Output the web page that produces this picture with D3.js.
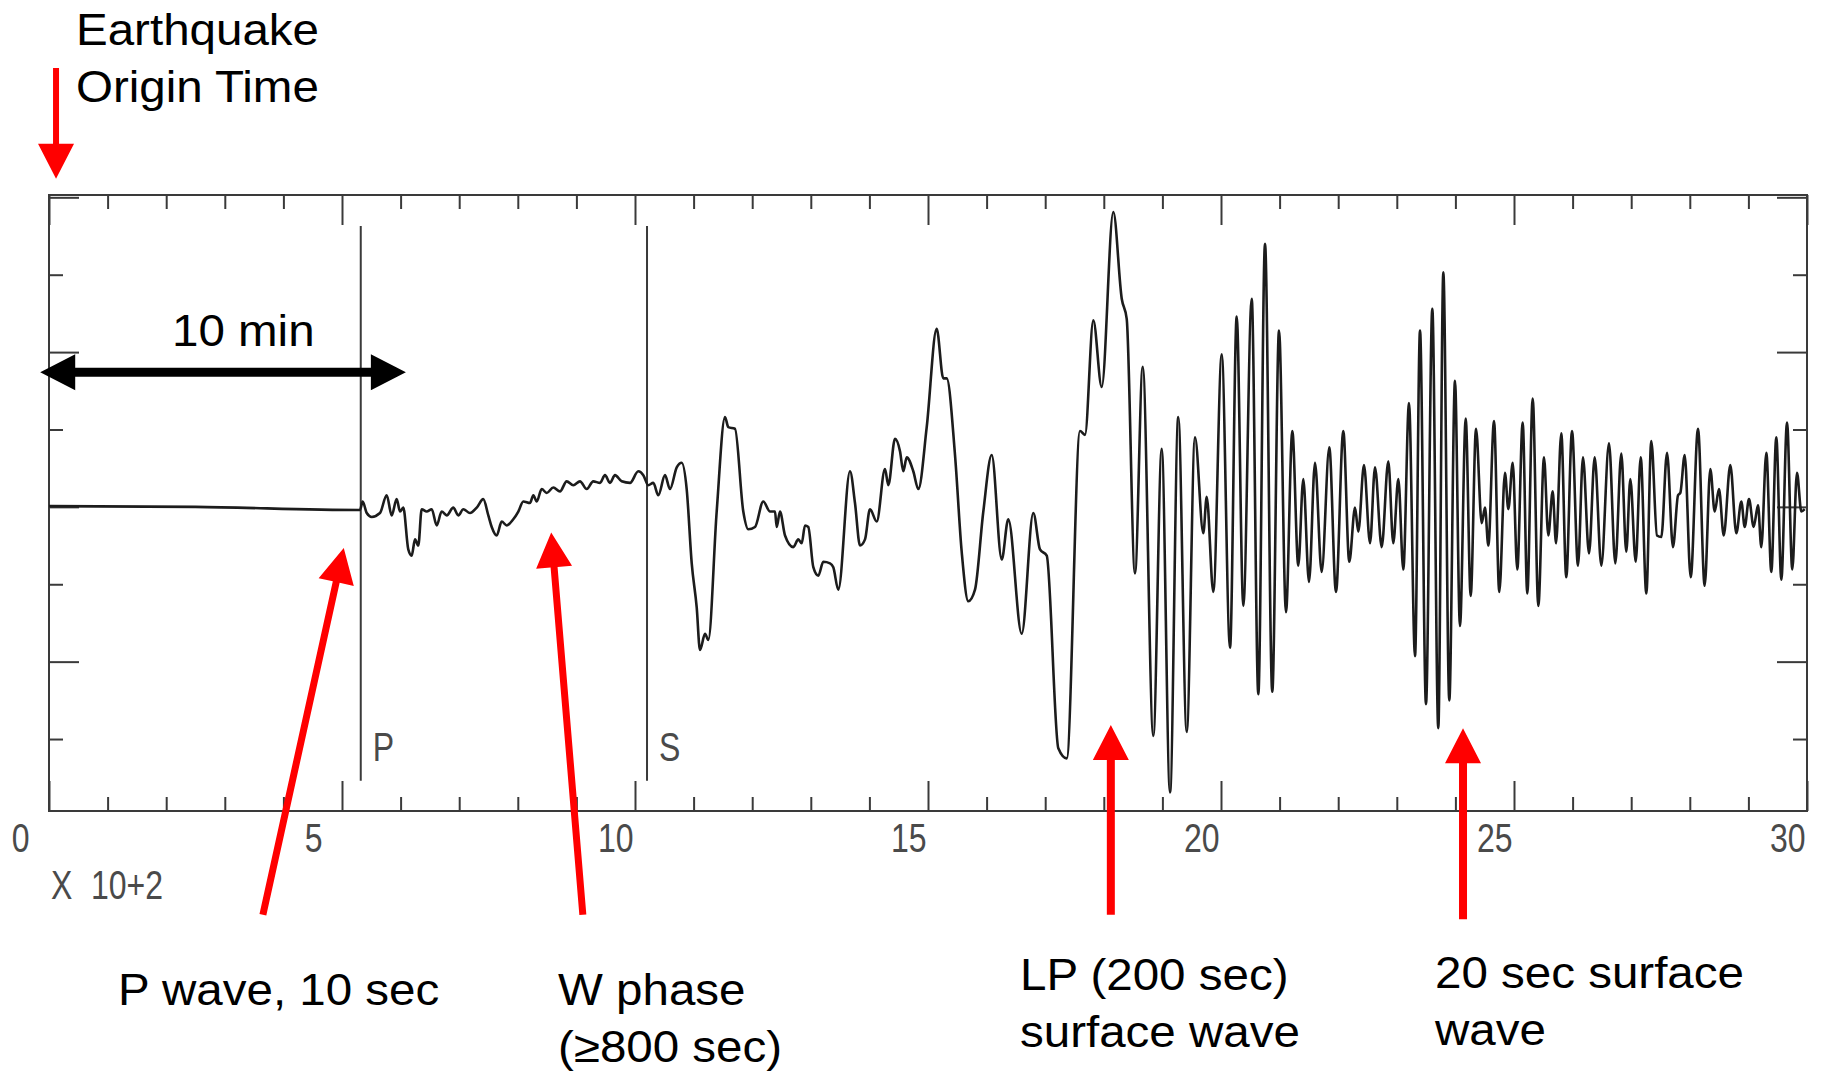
<!DOCTYPE html>
<html>
<head>
<meta charset="utf-8">
<script src="https://cdn.jsdelivr.net/npm/d3@7"></script>
<style>
  body { margin: 0; background: #fff; }
  svg { display: block; background: #fff; }
  .note { font-family: "Liberation Sans", Arial, sans-serif; font-size: 44px; fill: #000; }
  .tick-label { font-family: "Liberation Sans", Arial, sans-serif; font-size: 40px; fill: #4a4a4a; }
</style>
</head>
<body>
<svg width="1823" height="1071"></svg>
<script>
// time in units of 100 s ("X 10+2"), amplitude in axis units
const trace = [
  [0, 0.01], [2.5, 0], [5.307, -0.04], [5.353, 0.07], [5.422, -0.08], [5.507, -0.13], [5.648, -0.08],
  [5.763, 0.15], [5.848, -0.11], [5.933, 0.10], [5.990, -0.06], [6.046, -0.01], [6.131, -0.55],
  [6.189, -0.63], [6.246, -0.42], [6.302, -0.50], [6.360, -0.03], [6.445, -0.06], [6.531, -0.03],
  [6.616, -0.24], [6.701, -0.06], [6.787, -0.11], [6.899, -0.01], [6.985, -0.11], [7.070, -0.03],
  [7.184, -0.08], [7.299, -0.01], [7.411, 0.10], [7.497, -0.11], [7.555, -0.26], [7.640, -0.37],
  [7.725, -0.19], [7.811, -0.24], [7.923, -0.16], [8.009, -0.06], [8.094, 0.07], [8.208, 0.05],
  [8.265, 0.15], [8.323, 0.07], [8.408, 0.23], [8.493, 0.18], [8.606, 0.25], [8.720, 0.20],
  [8.834, 0.33], [8.947, 0.28], [9.061, 0.33], [9.176, 0.23], [9.288, 0.33], [9.403, 0.31],
  [9.488, 0.41], [9.573, 0.31], [9.659, 0.41], [9.773, 0.33], [9.915, 0.31], [10.056, 0.46],
  [10.142, 0.41], [10.227, 0.28], [10.312, 0.31], [10.398, 0.15],
  [10.512, 0.41], [10.597, 0.23], [10.712, 0.51], [10.797, 0.57], [10.882, 0.23], [10.968, -0.73],
  [11.053, -1.30], [11.109, -1.85], [11.195, -1.64], [11.251, -1.72], [11.394, -0.06], [11.536, 1.16],
  [11.592, 1.03], [11.706, 1.01], [11.848, -0.06], [11.933, -0.29], [12.048, -0.26], [12.189, 0.07],
  [12.304, -0.06], [12.389, -0.06], [12.418, -0.26], [12.474, -0.06], [12.560, -0.37], [12.701, -0.52],
  [12.787, -0.42], [12.845, -0.47], [12.901, -0.24], [12.957, -0.26], [13.043, -0.78], [13.128, -0.89],
  [13.213, -0.71], [13.328, -0.73], [13.384, -0.78], [13.469, -1.07], [13.669, 0.46], [13.754, 0.05],
  [13.840, -0.50], [13.925, -0.42], [14.010, -0.03], [14.125, -0.19], [14.266, 0.49], [14.323, 0.28],
  [14.437, 0.88], [14.522, 0.72], [14.579, 0.46], [14.637, 0.64], [14.749, 0.46], [14.835, 0.23],
  [14.978, 1.03], [15.148, 2.30], [15.261, 1.66], [15.319, 1.66], [15.461, 0.67], [15.575, -0.58],
  [15.688, -1.22], [15.802, -1.07], [15.944, -0.06], [16.087, 0.67], [16.258, -0.68], [16.370, -0.16],
  [16.599, -1.64], [16.797, -0.08], [16.911, -0.55], [17.026, -0.63], [17.224, -3.12], [17.367, -3.25],
  [17.594, 0.98], [17.679, 0.93], [17.821, 2.41], [17.964, 1.55], [18.162, 3.81], [18.306, 2.69],
  [18.391, 2.43], [18.532, -0.86], [18.664, 1.81], [18.845, -2.96], [18.988, 0.75], [19.130, -3.69],
  [19.271, 1.16], [19.415, -2.91], [19.556, 0.90], [19.698, -0.34], [19.756, 0.13], [19.869, -1.10],
  [20.012, 1.97], [20.154, -1.82], [20.268, 2.46], [20.381, -1.28], [20.524, 2.69], [20.637, -2.42],
  [20.751, 3.40], [20.875, -2.39], [20.990, 2.28], [21.109, -1.36], [21.217, 0.98], [21.319, -0.76],
  [21.404, 0.36], [21.502, -0.97], [21.604, 0.57], [21.718, -0.84], [21.848, 0.77], [21.962, -1.10],
  [22.087, 0.98], [22.189, -0.71], [22.287, -0.01], [22.343, -0.32], [22.440, 0.54], [22.543, -0.47],
  [22.628, 0.51], [22.742, -0.52], [22.855, 0.59], [22.940, -0.47], [23.026, 0.36], [23.111, -0.81],
  [23.208, 1.34], [23.311, -1.93], [23.396, 2.28], [23.498, -2.55], [23.606, 2.56], [23.708, -2.86],
  [23.794, 3.03], [23.896, -2.50], [23.993, 1.63], [24.078, -1.54], [24.176, 1.14], [24.261, -1.15],
  [24.352, 1.01], [24.449, -0.21], [24.505, -0.01], [24.562, -0.50], [24.659, 1.11], [24.749, -1.10],
  [24.846, 0.44], [24.903, -0.03], [24.978, 0.57], [25.056, -0.81], [25.148, 1.09], [25.227, -1.12],
  [25.319, 1.40], [25.415, -1.28], [25.512, 0.64], [25.585, -0.37], [25.660, 0.20], [25.717, -0.47],
  [25.807, 0.95], [25.892, -0.91], [25.990, 0.98], [26.092, -0.76], [26.177, 0.64], [26.280, -0.60],
  [26.377, 0.64], [26.490, -0.76], [26.621, 0.82], [26.729, -0.73], [26.831, 0.69], [26.916, -0.58],
  [26.985, 0.36], [27.077, -0.71], [27.162, 0.64], [27.258, -1.12], [27.343, 0.85], [27.440, -0.37],
  [27.514, -0.39], [27.611, 0.70], [27.713, -0.52], [27.799, 0.15], [27.838, 0.18], [27.913, 0.67],
  [28.015, -0.91], [28.140, 1.01], [28.254, -1.02], [28.350, 0.49], [28.425, -0.06], [28.498, 0.23],
  [28.579, -0.37], [28.691, 0.54], [28.794, -0.34], [28.879, 0.07], [28.937, -0.26], [29.010, 0.10],
  [29.090, -0.26], [29.164, 0.02], [29.220, -0.52], [29.306, 0.70], [29.391, -0.84], [29.476, 0.90],
  [29.562, -0.94], [29.659, 1.09], [29.749, -0.81], [29.829, 0.44], [29.903, -0.06], [29.961, -0.03]
];

const timeTicks = d3.range(0, 31);
const timeLabels = [0, 5, 10, 15, 20, 25, 30];
const ampTicks = d3.range(-3, 5);
const phases = [{ label: "P", t: 5.32 }, { label: "S", t: 10.205 }];

const arrows = [
  { from: [0.12, 5.67], to: [0.12, 4.24], color: "#ff0000", shaft: 6 },
  { from: [3.65, -5.27], to: [5.03, -0.53], color: "#ff0000", shaft: 7 },
  { from: [9.11, -5.27], to: [8.57, -0.33], color: "#ff0000", shaft: 7 },
  { from: [18.12, -5.27], to: [18.12, -2.82], color: "#ff0000", shaft: 8 },
  { from: [24.13, -5.33], to: [24.13, -2.86], color: "#ff0000", shaft: 8 },
  { from: [-0.15, 1.74], to: [6.09, 1.74], color: "#000000", shaft: 9, both: true }
];

const notes = [
  { lines: ["Earthquake", "Origin Time"], x: 76, y: 45 },
  { lines: ["10 min"], x: 172, y: 346 },
  { lines: ["P wave, 10 sec"], x: 118, y: 1005 },
  { lines: ["W phase", "(≥800 sec)"], x: 558, y: 1005 },
  { lines: ["LP (200 sec)", "surface wave"], x: 1020, y: 990 },
  { lines: ["20 sec surface", "wave"], x: 1435, y: 988 }
];

const svg = d3.select("svg");
const x = d3.scaleLinear().domain([0, 30]).range([49, 1807]);
const y = d3.scaleLinear().domain([-3.93, 4.03]).range([811, 195]);
const axisColor = "#3a3a3a";
const narrow = 0.8; // squeeze for the plotter-style labels

// frame
svg.append("rect")
  .attr("x", x(0)).attr("y", y(4.03))
  .attr("width", x(30) - x(0)).attr("height", y(-3.93) - y(4.03))
  .attr("fill", "none").attr("stroke", axisColor).attr("stroke-width", 2);

function styleAxis(g) {
  g.select(".domain").remove();
  g.selectAll(".tick line").attr("stroke", axisColor).attr("stroke-width", 2);
}

const isMajorT = (d) => d % 5 === 0;
const isMajorA = (d) => d % 2 === 0;

// time ticks, inward on top and bottom
svg.append("g").attr("transform", `translate(0,${y(-3.93)})`)
  .call(d3.axisBottom(x).tickValues(timeTicks.filter((d) => !isMajorT(d))).tickSize(-14).tickFormat(""))
  .call(styleAxis);
const bottomMajor = svg.append("g").attr("transform", `translate(0,${y(-3.93)})`)
  .call(d3.axisBottom(x).tickValues(timeLabels).tickSize(-30).tickFormat(d3.format("d")))
  .call(styleAxis);
bottomMajor.selectAll("text")
  .attr("class", "tick-label")
  .attr("text-anchor", "end")
  .attr("dy", null)
  .attr("y", 41)
  .attr("x", (d) => (d < 10 ? -20 : -2) / narrow)
  .attr("transform", `scale(${narrow},1)`);

svg.append("g").attr("transform", `translate(0,${y(4.03)})`)
  .call(d3.axisTop(x).tickValues(timeTicks.filter((d) => !isMajorT(d))).tickSize(-14).tickFormat(""))
  .call(styleAxis);
svg.append("g").attr("transform", `translate(0,${y(4.03)})`)
  .call(d3.axisTop(x).tickValues(timeLabels).tickSize(-30).tickFormat(""))
  .call(styleAxis);

// amplitude ticks, inward on left and right
[["left", x(0)], ["right", x(30)]].forEach(([side, px]) => {
  const make = side === "left" ? d3.axisLeft : d3.axisRight;
  svg.append("g").attr("transform", `translate(${px},0)`)
    .call(make(y).tickValues(ampTicks.filter((d) => !isMajorA(d))).tickSize(-14).tickFormat(""))
    .call(styleAxis);
  svg.append("g").attr("transform", `translate(${px},0)`)
    .call(make(y).tickValues(ampTicks.filter(isMajorA)).tickSize(-30).tickFormat(""))
    .call(styleAxis);
});

// "X 10+2" multiplier
const mult = svg.append("text").attr("class", "tick-label")
  .attr("transform", `translate(51,899) scale(${narrow},1)`);
mult.append("tspan").attr("x", 0).text("X");
mult.append("tspan").attr("x", 40 / narrow).text("10+2");

// phase picks
const ph = svg.append("g").selectAll("g").data(phases).join("g");
ph.append("line")
  .attr("x1", (d) => x(d.t)).attr("x2", (d) => x(d.t))
  .attr("y1", y(3.63)).attr("y2", y(-3.54))
  .attr("stroke", axisColor).attr("stroke-width", 2);
ph.append("text")
  .attr("class", "tick-label")
  .attr("transform", (d) => `translate(${x(d.t) + 12},${y(-3.54) - 20}) scale(${narrow},1)`)
  .text((d) => d.label);

// seismogram
const line = d3.line()
  .x((d) => x(d[0]))
  .y((d) => y(d[1]))
  .curve(d3.curveMonotoneX);

svg.append("path")
  .datum(trace)
  .attr("d", line)
  .attr("fill", "none")
  .attr("stroke", "#1c1c1c")
  .attr("stroke-width", 2.6)
  .attr("stroke-linejoin", "round");

// annotation arrows
function arrowPoints(a) {
  const [x1, y1] = [x(a.from[0]), y(a.from[1])];
  const [x2, y2] = [x(a.to[0]), y(a.to[1])];
  const len = Math.hypot(x2 - x1, y2 - y1);
  const ux = (x2 - x1) / len, uy = (y2 - y1) / len;
  const nx = -uy, ny = ux;
  const hl = 35, hw = 18, sw = a.shaft / 2;
  const pt = (px, py, s, t) => [px + ux * s + nx * t, py + uy * s + ny * t];
  const pts = [];
  if (a.both) {
    pts.push([x1, y1], pt(x1, y1, hl, -hw), pt(x1, y1, hl, -sw));
  } else {
    pts.push(pt(x1, y1, 0, -sw));
  }
  pts.push(pt(x2, y2, -hl, -sw), pt(x2, y2, -hl, -hw), [x2, y2], pt(x2, y2, -hl, hw), pt(x2, y2, -hl, sw));
  if (a.both) {
    pts.push(pt(x1, y1, hl, sw), pt(x1, y1, hl, hw));
  } else {
    pts.push(pt(x1, y1, 0, sw));
  }
  return pts.map((p) => p.join(",")).join(" ");
}

svg.append("g").selectAll("polygon").data(arrows).join("polygon")
  .attr("points", arrowPoints)
  .attr("fill", (d) => d.color);

// annotation text
svg.append("g").selectAll("text").data(notes).join("text")
  .attr("class", "note")
  .attr("transform", (d) => `translate(${d.x},${d.y}) scale(1.08,1)`)
  .selectAll("tspan").data((d) => d.lines).join("tspan")
  .attr("x", 0)
  .attr("y", (_, i) => i * 57)
  .text((d) => d);
</script>
</body>
</html>
